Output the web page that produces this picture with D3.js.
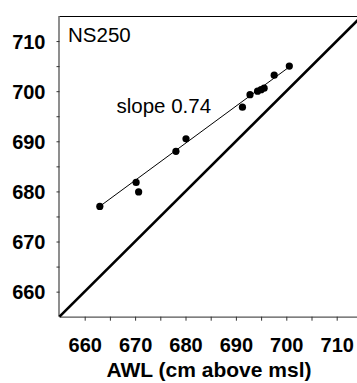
<!DOCTYPE html>
<html><head><meta charset="utf-8">
<script src="https://cdn.jsdelivr.net/npm/d3@7"></script>
<style>
html,body{margin:0;padding:0;background:#fff;overflow:hidden}
svg{display:block;font-family:Arial,"Liberation Sans",sans-serif}
</style></head>
<body>
<script>
// Data
const awl = [663.0, 670.2, 670.7, 678.1, 680.1, 691.3, 692.8, 694.3, 695.0, 695.6, 697.6, 700.6];
const ns250 = [677.0, 681.8, 679.9, 688.0, 690.5, 696.8, 699.3, 700.0, 700.3, 700.6, 703.2, 705.0];
const fitSlope = 0.74;
const fitIntercept = 186.4;
const majorTicks = [660, 670, 680, 690, 700, 710];
const minorTicks = [665, 675, 685, 695, 705];
const domainMin = 655, domainMax = 715;
const panelLabel = "NS250";
const slopeLabel = "slope 0.74";
const xTitle = "AWL (cm above msl)";

const W = 357, H = 383;
const svg = d3.select("body").append("svg").attr("width", W).attr("height", H);

const mLeft = 59.5, mTop = 16, mBottom = 316.7;
const x = d3.scaleLinear().domain([domainMin, domainMax]).range([mLeft, mLeft + 60 * 5.04]);
const y = d3.scaleLinear().domain([domainMin, domainMax]).range([mBottom, mTop]);

// top border
svg.append("line").attr("x1", mLeft).attr("x2", W).attr("y1", mTop + 0.5).attr("y2", mTop + 0.5)
  .attr("stroke", "#000").attr("stroke-width", 1.2);

// x axis
const xAxis = d3.axisBottom(x).tickValues(majorTicks.concat(minorTicks)).tickSize(4)
  .tickFormat(d => majorTicks.includes(d) ? d : "");
const gx = svg.append("g").attr("transform", `translate(0,${mBottom})`).call(xAxis);
gx.select(".domain").attr("d", `M${mLeft},0.5H${W}`).attr("stroke", "#555").attr("stroke-width", 1.2);
gx.selectAll(".tick line").attr("stroke", "#333");
gx.selectAll(".tick text").attr("font-size", 20).attr("font-weight", "bold").attr("fill", "#000")
  .attr("y", 21.5).attr("dy", "0.71em").attr("font-family", "Arial, 'Liberation Sans', sans-serif");

// y axis
const yAxis = d3.axisLeft(y).tickValues(majorTicks.concat(minorTicks)).tickSize(3)
  .tickFormat(d => majorTicks.includes(d) ? d : "");
const gy = svg.append("g").attr("transform", `translate(${mLeft},0)`).call(yAxis);
gy.select(".domain").attr("d", `M-0.5,${mTop}V${mBottom}`).attr("stroke", "#444").attr("stroke-width", 1.2);
gy.selectAll(".tick line").attr("stroke", "#333");
gy.selectAll(".tick text").attr("font-size", 20).attr("font-weight", "bold").attr("fill", "#000")
  .attr("x", -14).attr("dy", "0.36em").attr("font-family", "Arial, 'Liberation Sans', sans-serif");

// 1:1 line
svg.append("line")
  .attr("x1", x(domainMin)).attr("y1", y(domainMin))
  .attr("x2", x(domainMax)).attr("y2", y(domainMax))
  .attr("stroke", "#000").attr("stroke-width", 2.6);

// regression line
const xMin = d3.min(awl), xMax = d3.max(awl);
svg.append("line")
  .attr("x1", x(xMin)).attr("y1", y(fitIntercept + fitSlope * xMin))
  .attr("x2", x(xMax)).attr("y2", y(fitIntercept + fitSlope * xMax))
  .attr("stroke", "#000").attr("stroke-width", 1);

// points
svg.append("g").selectAll("circle").data(awl.map((d, i) => [d, ns250[i]])).join("circle")
  .attr("cx", d => x(d[0])).attr("cy", d => y(d[1])).attr("r", 3.6).attr("fill", "#000");

// labels
svg.append("text").attr("x", 68).attr("y", 41.7).attr("font-size", 20.5).text(panelLabel);
svg.append("text").attr("x", 116.5).attr("y", 112.7).attr("font-size", 20.5).text(slopeLabel);
svg.append("text").attr("x", 209).attr("y", 377).attr("text-anchor", "middle")
  .attr("font-size", 21).attr("font-weight", "bold").text(xTitle);
</script>
</body></html>
